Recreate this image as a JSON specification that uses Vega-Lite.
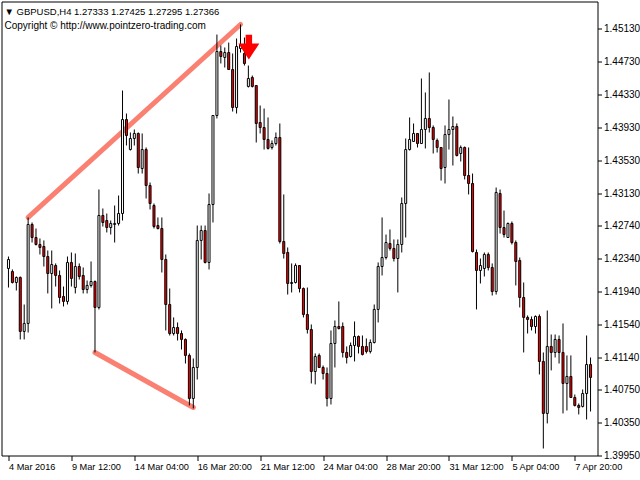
{
  "$schema": "https://vega.github.io/schema/vega-lite/v6.json",
  "width": 596,
  "height": 454,
  "autosize": {"type": "none"},
  "padding": {"left": 1.5, "top": 1.5, "right": 42.5, "bottom": 24.5},
  "background": "#ffffff",
  "config": {
    "view": {"stroke": "#000000", "strokeWidth": 1},
    "font": "Liberation Sans",
    "axisY": {
      "orient": "right",
      "title": null,
      "grid": false,
      "domain": false,
      "format": ".5f",
      "tickSize": 4,
      "tickColor": "#000000",
      "labelColor": "#000000",
      "labelFont": "Liberation Sans",
      "labelFontSize": 10,
      "labelPadding": 2,
      "labelBaseline": "middle",
      "labelFlush": false,
      "labelOverlap": false,
      "labelBound": false
    }
  },
  "title": {
    "text": "▼ GBPUSD,H4  1.27333 1.27425 1.27295 1.27366",
    "subtitle": "Copyright © http://www.pointzero-trading.com",
    "anchor": "start",
    "frame": "group",
    "orient": "top",
    "offset": -29,
    "dx": 3,
    "font": "Liberation Sans",
    "fontSize": 9.5,
    "fontWeight": "normal",
    "color": "#000000",
    "subtitleFont": "Liberation Sans",
    "subtitleFontSize": 10,
    "subtitleColor": "#000000",
    "subtitlePadding": 4
  },
  "datasets": {
    "bars": [
      {"i":0,"o":1.42219,"h":1.42364,"l":1.41988,"c":1.42328},
      {"i":1,"o":1.42182,"h":1.42207,"l":1.42037,"c":1.42049},
      {"i":2,"o":1.42049,"h":1.42122,"l":1.41952,"c":1.42110},
      {"i":3,"o":1.42110,"h":1.42122,"l":1.41358,"c":1.41455},
      {"i":4,"o":1.41455,"h":1.41782,"l":1.41358,"c":1.41552},
      {"i":5,"o":1.41552,"h":1.42838,"l":1.41442,"c":1.42753},
      {"i":6,"o":1.42753,"h":1.42777,"l":1.42534,"c":1.42595},
      {"i":7,"o":1.42595,"h":1.42704,"l":1.42498,"c":1.42510},
      {"i":8,"o":1.42510,"h":1.42583,"l":1.42389,"c":1.42474},
      {"i":9,"o":1.42486,"h":1.42559,"l":1.42243,"c":1.42364},
      {"i":10,"o":1.42364,"h":1.42437,"l":1.41916,"c":1.42158},
      {"i":11,"o":1.42158,"h":1.42437,"l":1.41734,"c":1.42267},
      {"i":12,"o":1.42255,"h":1.42280,"l":1.42000,"c":1.42134},
      {"i":13,"o":1.42134,"h":1.42195,"l":1.41794,"c":1.41867},
      {"i":14,"o":1.41879,"h":1.42000,"l":1.41758,"c":1.41819},
      {"i":15,"o":1.41819,"h":1.42364,"l":1.41782,"c":1.42292},
      {"i":16,"o":1.42292,"h":1.42413,"l":1.42000,"c":1.42098},
      {"i":17,"o":1.41988,"h":1.42401,"l":1.41916,"c":1.42243},
      {"i":18,"o":1.42243,"h":1.42280,"l":1.42085,"c":1.42122},
      {"i":19,"o":1.42134,"h":1.42231,"l":1.41916,"c":1.41964},
      {"i":20,"o":1.41964,"h":1.42073,"l":1.41916,"c":1.42013},
      {"i":21,"o":1.42013,"h":1.42304,"l":1.41988,"c":1.42061},
      {"i":22,"o":1.42061,"h":1.42073,"l":1.41200,"c":1.41746},
      {"i":23,"o":1.41746,"h":1.43177,"l":1.41722,"c":1.42862},
      {"i":24,"o":1.42862,"h":1.42947,"l":1.42728,"c":1.42777},
      {"i":25,"o":1.42801,"h":1.42886,"l":1.42656,"c":1.42716},
      {"i":26,"o":1.42716,"h":1.42801,"l":1.42631,"c":1.42765},
      {"i":27,"o":1.42753,"h":1.42983,"l":1.42534,"c":1.42765},
      {"i":28,"o":1.42765,"h":1.43104,"l":1.42740,"c":1.42886},
      {"i":29,"o":1.42886,"h":1.44378,"l":1.42801,"c":1.44026},
      {"i":30,"o":1.44026,"h":1.44099,"l":1.43711,"c":1.43832},
      {"i":31,"o":1.43662,"h":1.43869,"l":1.43650,"c":1.43796},
      {"i":32,"o":1.43796,"h":1.43905,"l":1.43711,"c":1.43857},
      {"i":33,"o":1.43857,"h":1.43869,"l":1.43371,"c":1.43444},
      {"i":34,"o":1.43432,"h":1.43857,"l":1.43371,"c":1.43662},
      {"i":35,"o":1.43662,"h":1.43687,"l":1.43068,"c":1.43226},
      {"i":36,"o":1.43226,"h":1.43262,"l":1.42935,"c":1.43007},
      {"i":37,"o":1.42983,"h":1.43007,"l":1.42704,"c":1.42728},
      {"i":38,"o":1.42740,"h":1.42838,"l":1.42692,"c":1.42704},
      {"i":39,"o":1.42704,"h":1.42838,"l":1.42170,"c":1.42328},
      {"i":40,"o":1.42328,"h":1.42389,"l":1.41467,"c":1.41782},
      {"i":41,"o":1.41782,"h":1.41976,"l":1.41406,"c":1.41430},
      {"i":42,"o":1.41430,"h":1.41625,"l":1.41406,"c":1.41503},
      {"i":43,"o":1.41503,"h":1.41564,"l":1.41345,"c":1.41430},
      {"i":44,"o":1.41430,"h":1.41467,"l":1.41236,"c":1.41358},
      {"i":45,"o":1.41358,"h":1.41370,"l":1.41066,"c":1.41164},
      {"i":46,"o":1.41164,"h":1.41188,"l":1.40557,"c":1.40642},
      {"i":47,"o":1.40642,"h":1.41127,"l":1.40521,"c":1.41018},
      {"i":48,"o":1.41018,"h":1.42740,"l":1.40872,"c":1.42559},
      {"i":49,"o":1.42559,"h":1.42740,"l":1.42328,"c":1.42680},
      {"i":50,"o":1.42680,"h":1.42740,"l":1.42280,"c":1.42292},
      {"i":51,"o":1.42292,"h":1.43129,"l":1.42207,"c":1.42995},
      {"i":52,"o":1.42995,"h":1.44075,"l":1.42777,"c":1.44075},
      {"i":53,"o":1.44075,"h":1.45057,"l":1.44039,"c":1.44851},
      {"i":54,"o":1.44851,"h":1.44924,"l":1.44706,"c":1.44791},
      {"i":55,"o":1.44779,"h":1.44900,"l":1.44657,"c":1.44839},
      {"i":56,"o":1.44839,"h":1.44960,"l":1.44633,"c":1.44633},
      {"i":57,"o":1.44633,"h":1.44827,"l":1.44123,"c":1.44172},
      {"i":58,"o":1.44172,"h":1.45009,"l":1.44099,"c":1.44912},
      {"i":59,"o":1.44888,"h":1.45179,"l":1.44839,"c":1.44936},
      {"i":60,"o":1.44827,"h":1.45021,"l":1.44681,"c":1.44706},
      {"i":61,"o":1.44427,"h":1.44681,"l":1.44415,"c":1.44524},
      {"i":62,"o":1.44536,"h":1.44560,"l":1.44415,"c":1.44427},
      {"i":63,"o":1.44439,"h":1.44439,"l":1.43747,"c":1.43978},
      {"i":64,"o":1.43990,"h":1.44196,"l":1.43857,"c":1.43929},
      {"i":65,"o":1.43929,"h":1.44160,"l":1.43662,"c":1.43784},
      {"i":66,"o":1.43784,"h":1.44051,"l":1.43662,"c":1.43675},
      {"i":67,"o":1.43687,"h":1.43772,"l":1.43662,"c":1.43735},
      {"i":68,"o":1.43735,"h":1.43869,"l":1.43711,"c":1.43808},
      {"i":69,"o":1.43808,"h":1.43978,"l":1.42522,"c":1.42546},
      {"i":70,"o":1.42546,"h":1.43117,"l":1.42340,"c":1.42401},
      {"i":71,"o":1.42413,"h":1.42474,"l":1.41903,"c":1.42037},
      {"i":72,"o":1.42037,"h":1.42280,"l":1.41928,"c":1.42049},
      {"i":73,"o":1.42049,"h":1.42280,"l":1.42037,"c":1.42255},
      {"i":74,"o":1.42255,"h":1.42255,"l":1.41928,"c":1.41976},
      {"i":75,"o":1.41976,"h":1.41988,"l":1.41625,"c":1.41661},
      {"i":76,"o":1.41661,"h":1.41988,"l":1.41430,"c":1.41479},
      {"i":77,"o":1.41479,"h":1.41540,"l":1.40824,"c":1.40969},
      {"i":78,"o":1.40969,"h":1.41188,"l":1.40812,"c":1.41151},
      {"i":79,"o":1.41164,"h":1.41188,"l":1.41018,"c":1.41018},
      {"i":80,"o":1.41018,"h":1.41042,"l":1.40872,"c":1.40945},
      {"i":81,"o":1.40945,"h":1.41018,"l":1.40545,"c":1.40642},
      {"i":82,"o":1.40642,"h":1.41467,"l":1.40569,"c":1.41309},
      {"i":83,"o":1.41309,"h":1.41588,"l":1.41018,"c":1.41515},
      {"i":84,"o":1.41515,"h":1.41819,"l":1.41479,"c":1.41491},
      {"i":85,"o":1.41515,"h":1.41564,"l":1.41139,"c":1.41200},
      {"i":86,"o":1.41200,"h":1.41273,"l":1.41066,"c":1.41139},
      {"i":87,"o":1.41151,"h":1.41321,"l":1.41139,"c":1.41285},
      {"i":88,"o":1.41285,"h":1.41576,"l":1.41091,"c":1.41394},
      {"i":89,"o":1.41394,"h":1.41406,"l":1.41188,"c":1.41273},
      {"i":90,"o":1.41273,"h":1.41406,"l":1.41164,"c":1.41176},
      {"i":91,"o":1.41273,"h":1.41370,"l":1.41188,"c":1.41212},
      {"i":92,"o":1.41212,"h":1.41358,"l":1.41188,"c":1.41321},
      {"i":93,"o":1.41321,"h":1.41782,"l":1.41309,"c":1.41722},
      {"i":94,"o":1.41722,"h":1.42292,"l":1.41564,"c":1.42243},
      {"i":95,"o":1.42243,"h":1.42838,"l":1.42134,"c":1.42352},
      {"i":96,"o":1.42352,"h":1.42631,"l":1.42328,"c":1.42534},
      {"i":97,"o":1.42522,"h":1.42692,"l":1.42437,"c":1.42462},
      {"i":98,"o":1.42462,"h":1.42571,"l":1.42304,"c":1.42340},
      {"i":99,"o":1.42340,"h":1.42571,"l":1.41928,"c":1.42510},
      {"i":100,"o":1.42510,"h":1.43080,"l":1.42413,"c":1.43007},
      {"i":101,"o":1.43007,"h":1.43796,"l":1.42595,"c":1.43662},
      {"i":102,"o":1.43662,"h":1.44051,"l":1.43650,"c":1.43784},
      {"i":103,"o":1.43760,"h":1.43978,"l":1.43760,"c":1.43857},
      {"i":104,"o":1.43857,"h":1.43857,"l":1.43687,"c":1.43735},
      {"i":105,"o":1.43735,"h":1.44524,"l":1.43735,"c":1.43905},
      {"i":106,"o":1.43905,"h":1.44354,"l":1.43675,"c":1.44039},
      {"i":107,"o":1.44039,"h":1.44597,"l":1.43869,"c":1.43929},
      {"i":108,"o":1.43929,"h":1.43954,"l":1.43614,"c":1.43784},
      {"i":109,"o":1.43772,"h":1.43796,"l":1.43626,"c":1.43687},
      {"i":110,"o":1.43687,"h":1.43687,"l":1.43286,"c":1.43432},
      {"i":111,"o":1.43444,"h":1.43954,"l":1.43250,"c":1.43844},
      {"i":112,"o":1.43844,"h":1.44269,"l":1.43662,"c":1.43905},
      {"i":113,"o":1.43905,"h":1.44063,"l":1.43468,"c":1.43941},
      {"i":114,"o":1.43941,"h":1.43978,"l":1.43578,"c":1.43590},
      {"i":115,"o":1.43614,"h":1.43711,"l":1.43517,"c":1.43687},
      {"i":116,"o":1.43687,"h":1.43699,"l":1.43299,"c":1.43347},
      {"i":117,"o":1.43347,"h":1.43687,"l":1.43117,"c":1.43250},
      {"i":118,"o":1.43250,"h":1.43371,"l":1.42413,"c":1.42425},
      {"i":119,"o":1.42413,"h":1.42449,"l":1.41722,"c":1.42195},
      {"i":120,"o":1.42195,"h":1.42340,"l":1.42037,"c":1.42255},
      {"i":121,"o":1.42219,"h":1.42413,"l":1.42122,"c":1.42389},
      {"i":122,"o":1.42389,"h":1.42413,"l":1.42195,"c":1.42231},
      {"i":123,"o":1.42231,"h":1.42280,"l":1.41891,"c":1.41940},
      {"i":124,"o":1.41940,"h":1.43201,"l":1.41903,"c":1.43141},
      {"i":125,"o":1.43129,"h":1.43177,"l":1.42643,"c":1.42716},
      {"i":126,"o":1.42716,"h":1.42922,"l":1.42595,"c":1.42631},
      {"i":127,"o":1.42595,"h":1.42777,"l":1.42595,"c":1.42765},
      {"i":128,"o":1.42765,"h":1.42789,"l":1.42510,"c":1.42534},
      {"i":129,"o":1.42534,"h":1.42559,"l":1.42013,"c":1.42304},
      {"i":130,"o":1.42316,"h":1.42352,"l":1.41746,"c":1.41867},
      {"i":131,"o":1.41867,"h":1.42049,"l":1.41200,"c":1.41625},
      {"i":132,"o":1.41625,"h":1.41649,"l":1.41430,"c":1.41600},
      {"i":133,"o":1.41600,"h":1.41637,"l":1.41467,"c":1.41515},
      {"i":134,"o":1.41515,"h":1.41649,"l":1.41430,"c":1.41637},
      {"i":135,"o":1.41637,"h":1.41661,"l":1.40933,"c":1.41091},
      {"i":136,"o":1.41091,"h":1.41200,"l":1.40035,"c":1.40460},
      {"i":137,"o":1.40460,"h":1.41709,"l":1.40339,"c":1.41273},
      {"i":138,"o":1.41273,"h":1.41418,"l":1.40982,"c":1.41200},
      {"i":139,"o":1.41200,"h":1.41418,"l":1.41139,"c":1.41358},
      {"i":140,"o":1.41358,"h":1.41406,"l":1.41066,"c":1.41200},
      {"i":141,"o":1.41200,"h":1.41552,"l":1.40460,"c":1.40824},
      {"i":142,"o":1.40824,"h":1.41164,"l":1.40496,"c":1.40909},
      {"i":143,"o":1.40909,"h":1.41164,"l":1.40654,"c":1.40654},
      {"i":144,"o":1.40654,"h":1.40690,"l":1.40545,"c":1.40557},
      {"i":145,"o":1.40557,"h":1.40581,"l":1.40448,"c":1.40533},
      {"i":146,"o":1.40545,"h":1.40751,"l":1.40533,"c":1.40702},
      {"i":147,"o":1.40702,"h":1.41406,"l":1.40387,"c":1.41054},
      {"i":148,"o":1.41054,"h":1.41139,"l":1.40484,"c":1.40897}
    ],
    "trend": [
      {"g":"upper","i":5,"p":1.42838},
      {"g":"upper","i":59,"p":1.45179},
      {"g":"lower","i":22,"p":1.41200},
      {"g":"lower","i":47,"p":1.40533}
    ],
    "signal": [
      {"i":61.125,"p":1.44904}
    ]
  },
  "encoding": {
    "x": {
      "field": "i",
      "type": "quantitative",
      "scale": {"domain": [-0.5, 148.5], "nice": false, "zero": false},
      "axis": {
        "orient": "bottom",
        "title": null,
        "grid": false,
        "domain": false,
        "values": [0, 16, 32, 48, 64, 80, 96, 112, 128, 144],
        "labelExpr": "['4 Mar 2016','9 Mar 12:00','14 Mar 04:00','16 Mar 20:00','21 Mar 12:00','24 Mar 04:00','28 Mar 20:00','31 Mar 12:00','5 Apr 04:00','7 Apr 20:00'][round(datum.value / 16)]",
        "tickSize": 5,
        "tickColor": "#000000",
        "labelColor": "#000000",
        "labelFont": "Liberation Sans",
        "labelFontSize": 9.2,
        "labelAlign": "left",
        "labelBaseline": "top",
        "labelPadding": 2,
        "labelOffset": 0,
        "labelFlush": false,
        "labelOverlap": false,
        "labelBound": false
      }
    }
  },
  "layer": [
    {
      "data": {"name": "trend"},
      "mark": {"type": "line", "stroke": "#FA8072", "strokeWidth": 5, "strokeCap": "round"},
      "encoding": {
        "y": {
          "field": "p",
          "type": "quantitative",
          "scale": {"domain": [1.3995, 1.45458], "nice": false, "zero": false},
          "axis": {"values": [1.4513, 1.4473, 1.4433, 1.4393, 1.4353, 1.4313, 1.4274, 1.4234, 1.4194, 1.4154, 1.4114, 1.4075, 1.4035, 1.3995]}
        },
        "detail": {"field": "g"}
      }
    },
    {
      "data": {"name": "bars"},
      "mark": {"type": "rule", "stroke": "#000000", "strokeWidth": 1},
      "encoding": {
        "y": {
          "field": "l",
          "type": "quantitative",
          "scale": {"domain": [1.3995, 1.45458], "nice": false, "zero": false},
          "axis": {"values": [1.4513, 1.4473, 1.4433, 1.4393, 1.4353, 1.4313, 1.4274, 1.4234, 1.4194, 1.4154, 1.4114, 1.4075, 1.4035, 1.3995]}
        },
        "y2": {"field": "h"}
      }
    },
    {
      "data": {"name": "bars"},
      "mark": {"type": "bar", "size": 2, "stroke": "#000000", "strokeWidth": 1},
      "encoding": {
        "y": {
          "field": "o",
          "type": "quantitative",
          "scale": {"domain": [1.3995, 1.45458], "nice": false, "zero": false},
          "axis": {"values": [1.4513, 1.4473, 1.4433, 1.4393, 1.4353, 1.4313, 1.4274, 1.4234, 1.4194, 1.4154, 1.4114, 1.4075, 1.4035, 1.3995]}
        },
        "y2": {"field": "c"},
        "fill": {
          "condition": {"test": "datum.c < datum.o", "value": "#FF0000"},
          "value": "#FFFFFF"
        }
      }
    },
    {
      "data": {"name": "signal"},
      "mark": {
        "type": "point",
        "shape": "M -0.26 -1 L 0.26 -1 L 0.26 -0.3 L 0.84 -0.3 L 0 1 L -0.84 -0.3 L -0.26 -0.3 Z",
        "size": 620,
        "filled": true,
        "fill": "#FF0000",
        "strokeWidth": 0,
        "opacity": 1
      },
      "encoding": {
        "y": {
          "field": "p",
          "type": "quantitative",
          "scale": {"domain": [1.3995, 1.45458], "nice": false, "zero": false},
          "axis": {"values": [1.4513, 1.4473, 1.4433, 1.4393, 1.4353, 1.4313, 1.4274, 1.4234, 1.4194, 1.4154, 1.4114, 1.4075, 1.4035, 1.3995]}
        }
      }
    }
  ]
}
